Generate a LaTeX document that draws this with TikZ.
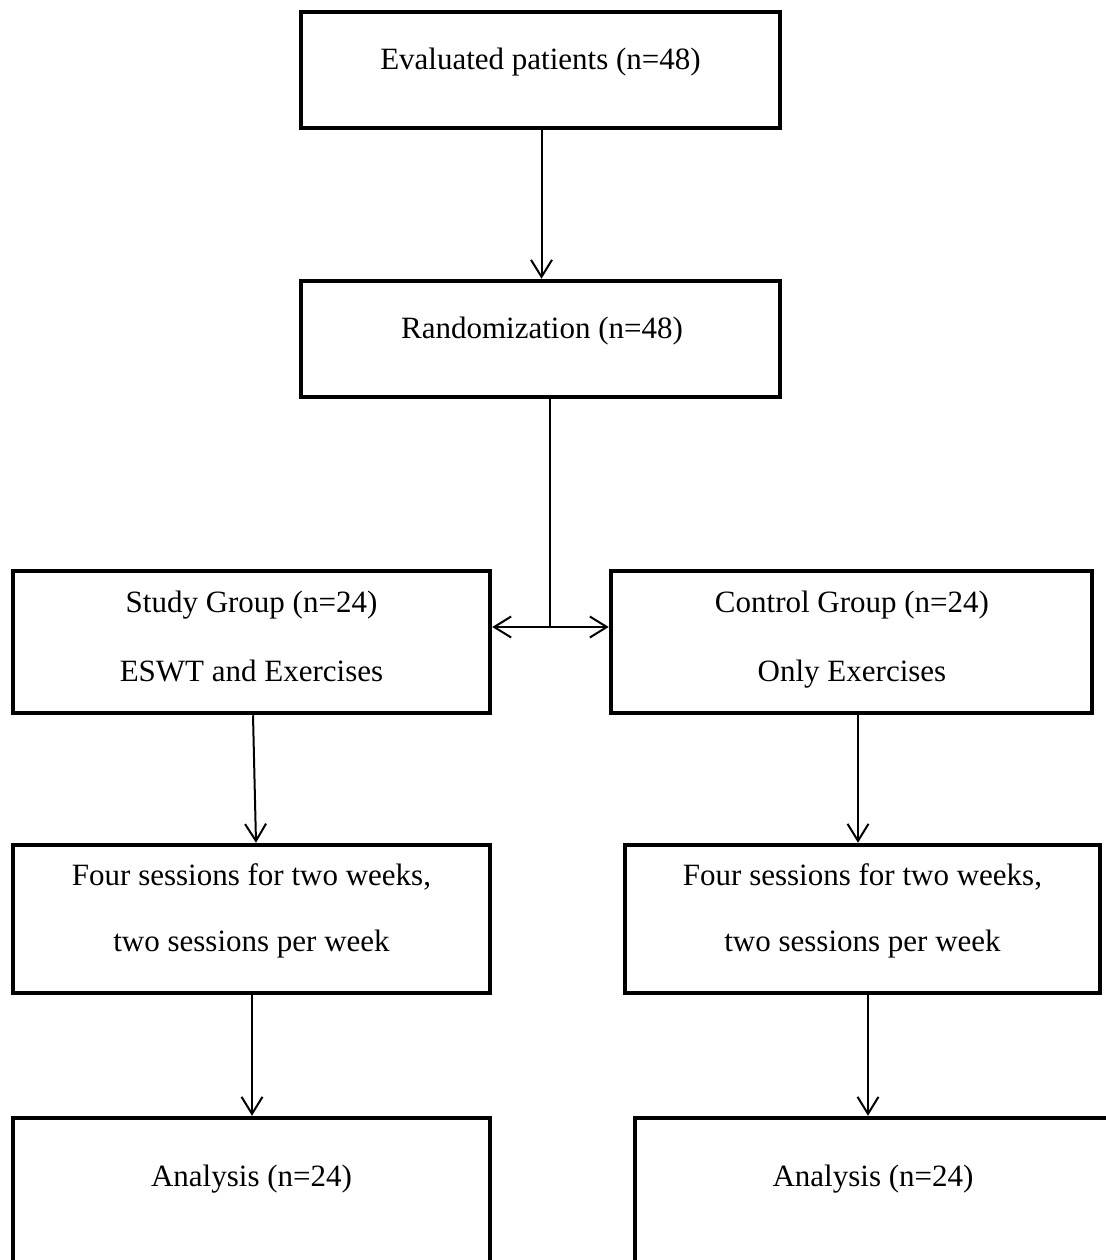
\documentclass[tikz,border=0pt]{standalone}
\usepackage{fontspec}
\setmainfont{Liberation Serif}
\usetikzlibrary{arrows.meta,calc}
\begin{document}
\begin{tikzpicture}[x=1pt,y=-1pt,
  box/.style={draw=black,line width=4.5pt,rectangle,inner sep=0pt,fill=none},
  lbl/.style={anchor=base,inner sep=0pt,font=\fontsize{31}{36}\selectfont},
  conn/.style={draw=black,line width=2pt},
  arr/.style={conn,-{Straight Barb[length=17pt,width=21pt,line width=2pt]}},
]
\useasboundingbox (0,0) rectangle (1105,1260);
\fill[white] (0,0) rectangle (1105,1260);
% boxes
\node[box,minimum width=479pt,minimum height=116pt] (b1) at (540.5,70) {};
\node[box,minimum width=479pt,minimum height=116pt] (b2) at (540.5,339) {};
\node[box,minimum width=477pt,minimum height=142pt] (b3) at (251.5,642) {};
\node[box,minimum width=481pt,minimum height=142pt] (b4) at (851.5,642) {};
\node[box,minimum width=477pt,minimum height=148pt] (b5) at (251.5,919) {};
\node[box,minimum width=475pt,minimum height=148pt] (b6) at (862.5,919) {};
\node[box,minimum width=477pt,minimum height=172pt] (b7) at (251.5,1204) {};
\node[box,minimum width=480pt,minimum height=172pt] (b8) at (875,1204) {};
% texts
\node[lbl] (t1) at (540.5,70) {Evaluated patients (n=48)};
\node[lbl] (t2) at (542,338) {Randomization (n=48)};
\node[lbl] (t3a) at (251.5,612) {Study Group (n=24)};
\node[lbl] (t3b) at (251.5,681) {ESWT and Exercises};
\node[lbl] (t4a) at (852,612) {Control Group (n=24)};
\node[lbl] (t4b) at (852,681) {Only Exercises};
\node[lbl] (t5a) at (251.5,885) {Four sessions for two weeks,};
\node[lbl] (t5b) at (251.5,951) {two sessions per week};
\node[lbl] (t6a) at (862.5,885) {Four sessions for two weeks,};
\node[lbl] (t6b) at (862.5,951) {two sessions per week};
\node[lbl] (t7) at (251.5,1186) {Analysis (n=24)};
\node[lbl] (t8) at (873,1186) {Analysis (n=24)};
% connectors
\coordinate (split) at (550,627);
\draw[arr] ($(b1.south)+(1,0)$) -- ($(b2.north)+(1,0)$);
\draw[conn] (b2.south -| split) -- (split);
\draw[arr] (split) -- (b3.east |- split);
\draw[arr] (split) -- (b4.west |- split);
\draw[arr] ($(b3.south)+(1.5,0)$) -- ($(b5.north)+(4.5,0)$);
\draw[arr] ($(b4.south)+(6.5,0)$) -- ($(b6.north)+(-4.5,0)$);
\draw[arr] ($(b5.south)+(0.5,0)$) -- ($(b7.north)+(0.5,0)$);
\draw[arr] ($(b6.south)+(5.5,0)$) -- ($(b8.north)+(-7,0)$);
\end{tikzpicture}
\end{document}
